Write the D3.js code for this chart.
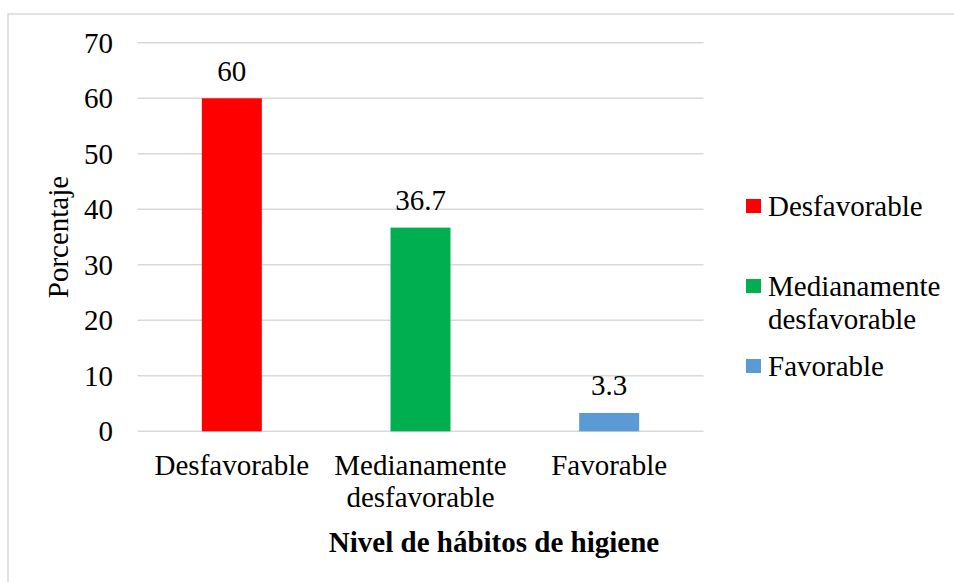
<!DOCTYPE html>
<html>
<head>
<meta charset="utf-8">
<script src="https://cdn.jsdelivr.net/npm/d3@7"></script>
</head>
<body style="margin:0;background:#fff">
<svg id="fig" width="954" height="582"></svg>
<script>
// Nivel de hábitos de higiene — bar chart
const categories = ['Desfavorable', 'Medianamente desfavorable', 'Favorable'];
const tickLabels = [['Desfavorable'], ['Medianamente', 'desfavorable'], ['Favorable']];
const values = [60, 36.7, 3.3];
const colors = ['#ff0000', '#00b050', '#5b9bd5'];
const yTicks = [0, 10, 20, 30, 40, 50, 60, 70];

const plot = { left: 137.5, right: 703.5, top: 42.8, bottom: 431.3 };
const fs = 29;
const fontName = 'Liberation Serif';
const font = `"${fontName}", serif`;

const svg = d3.select('#fig');

// chart border
svg.append('rect')
  .attr('x', 8).attr('y', 14)
  .attr('width', 960).attr('height', 600)
  .attr('fill', '#fff')
  .attr('stroke', '#d9d9d9')
  .attr('stroke-width', 1.5);

const x = d3.scaleBand()
  .domain(categories)
  .range([plot.left, plot.right])
  .paddingInner(0.682)
  .paddingOuter(0.341);

const y = d3.scaleLinear()
  .domain([0, 70])
  .range([plot.bottom, plot.top]);

// gridlines
svg.append('g')
  .selectAll('line')
  .data(yTicks)
  .join('line')
  .attr('x1', plot.left).attr('x2', plot.right)
  .attr('y1', d => y(d)).attr('y2', d => y(d))
  .attr('stroke', '#d9d9d9')
  .attr('stroke-width', 1.5);

// y tick labels
svg.append('g')
  .selectAll('text')
  .data(yTicks)
  .join('text')
  .attr('x', 113)
  .attr('y', d => y(d))
  .attr('dy', '0.34em')
  .attr('text-anchor', 'end')
  .attr('font-size', fs)
  .style('font-family', font)
  .text(d => d);

// bars
svg.append('g')
  .selectAll('rect')
  .data(values)
  .join('rect')
  .attr('x', (d, i) => x(categories[i]))
  .attr('width', x.bandwidth())
  .attr('y', d => y(d))
  .attr('height', d => y(0) - y(d))
  .attr('fill', (d, i) => colors[i]);

// data labels
svg.append('g')
  .selectAll('text')
  .data(values)
  .join('text')
  .attr('x', (d, i) => x(categories[i]) + x.bandwidth() / 2)
  .attr('y', d => y(d) - 17.5)
  .attr('text-anchor', 'middle')
  .attr('font-size', fs)
  .style('font-family', font)
  .text(d => d);

// category labels
const xl = svg.append('g')
  .selectAll('text')
  .data(tickLabels)
  .join('text')
  .attr('x', (d, i) => x(categories[i]) + x.bandwidth() / 2)
  .attr('y', 475)
  .attr('text-anchor', 'middle')
  .attr('font-size', fs)
  .style('font-family', font);
xl.selectAll('tspan')
  .data(d => d)
  .join('tspan')
  .attr('x', function () { return this.parentNode.getAttribute('x'); })
  .attr('dy', (d, i) => i === 0 ? 0 : 32)
  .text(d => d);

// axis titles
svg.append('text')
  .attr('transform', `translate(68,${(plot.top + plot.bottom) / 2}) rotate(-90)`)
  .attr('text-anchor', 'middle')
  .attr('font-size', fs)
  .style('font-family', font)
  .text('Porcentaje');

svg.append('text')
  .attr('x', 494)
  .attr('y', 552)
  .attr('text-anchor', 'middle')
  .attr('font-size', fs)
  .attr('font-weight', 'bold')
  .style('font-family', font)
  .text('Nivel de hábitos de higiene');

// legend
const legendLines = [['Desfavorable'], ['Medianamente', 'desfavorable'], ['Favorable']];
const legendY = [206, 286, 366];
const lg = svg.append('g')
  .selectAll('g')
  .data(categories)
  .join('g')
  .attr('transform', (d, i) => `translate(746,${legendY[i]})`);
lg.append('rect')
  .attr('x', 0).attr('y', -7)
  .attr('width', 15).attr('height', 14)
  .attr('fill', (d, i) => colors[i]);
const lt = lg.append('text')
  .attr('x', 22)
  .attr('y', 0)
  .attr('font-size', fs)
  .style('font-family', font);
lt.selectAll('tspan')
  .data((d, i) => legendLines[i])
  .join('tspan')
  .attr('x', 22)
  .attr('dy', (d, i) => i === 0 ? '0.34em' : 33)
  .text(d => d);
</script>
</body>
</html>
